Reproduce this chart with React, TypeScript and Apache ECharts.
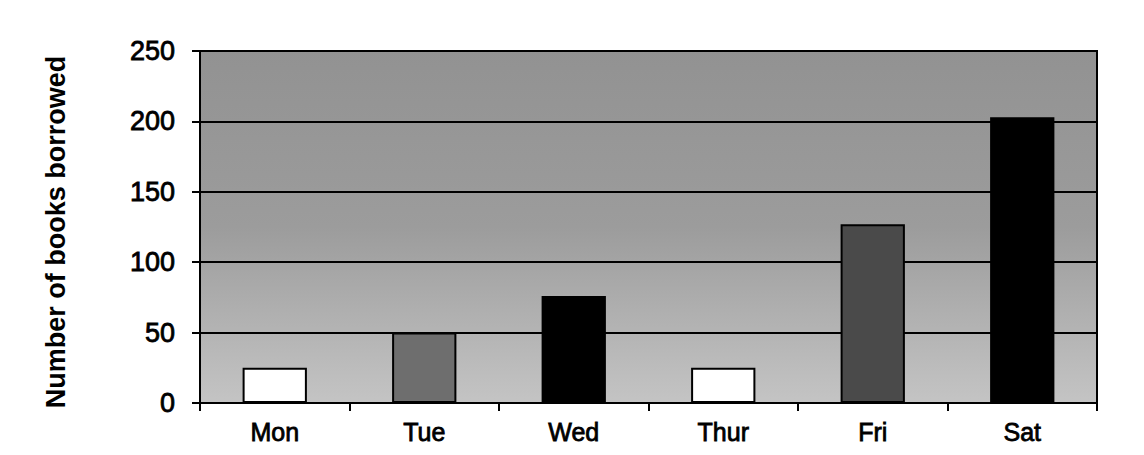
import React, { useEffect, useRef } from "react";
import * as echarts from "echarts";

const categories = ["Mon", "Tue", "Wed", "Thur", "Fri", "Sat"];
const booksBorrowed = [25, 50, 76, 25, 127, 203];
const barFills = ["#ffffff", "#6e6e6e", "#000000", "#ffffff", "#4a4a4a", "#000000"];
const yTicks = [0, 50, 100, 150, 200, 250];
const yTitle = "Number of books borrowed";

const FONT = "'Liberation Sans', Arial, sans-serif";

export default function App() {
  const ref = useRef<HTMLDivElement>(null);
  useEffect(() => {
    if (!ref.current) return;
    const chart = echarts.init(ref.current, null, { renderer: "svg" });
    chart.setOption({
      animation: false,
      backgroundColor: "#ffffff",
      grid: {
        left: 192,
        right: 39,
        top: 43,
        bottom: 44,
        show: true,
        borderColor: "#000",
        borderWidth: 2,
        backgroundColor: {
          type: "linear",
          x: 0,
          y: 0,
          x2: 0,
          y2: 1,
          colorStops: [
            { offset: 0, color: "#929292" },
            { offset: 0.5, color: "#9c9c9c" },
            { offset: 1, color: "#c4c4c4" },
          ],
        },
      },
      graphic: [
        {
          type: "text",
          x: 48,
          y: 224,
          rotation: Math.PI / 2,
          style: {
            text: yTitle,
            font: `bold 27px ${FONT}`,
            fill: "#000",
            textAlign: "center",
            textVerticalAlign: "middle",
          },
        },
      ],
      xAxis: {
        type: "category",
        data: categories,
        axisLine: { lineStyle: { color: "#000", width: 2 } },
        axisTick: { show: true, length: 8, lineStyle: { color: "#000", width: 2 } },
        axisLabel: {
          color: "#000",
          fontFamily: FONT,
          fontSize: 25,
          margin: 16,
          textBorderColor: "#000",
          textBorderWidth: 0.8,
        },
        splitLine: { show: false },
      },
      yAxis: {
        type: "value",
        min: yTicks[0],
        max: yTicks[yTicks.length - 1],
        interval: 50,
        axisLine: { show: true, lineStyle: { color: "#000", width: 2 } },
        axisTick: { show: true, length: 8, lineStyle: { color: "#000", width: 2 } },
        axisLabel: {
          color: "#000",
          fontFamily: FONT,
          fontSize: 27,
          margin: 25,
          textBorderColor: "#000",
          textBorderWidth: 0.8,
        },
        splitLine: { show: true, lineStyle: { color: "#000", width: 2 } },
      },
      series: [
        {
          type: "bar",
          barWidth: "43%",
          data: booksBorrowed.map((v, i) => ({
            value: v,
            itemStyle: { color: barFills[i], borderColor: "#000", borderWidth: 2 },
          })),
        },
      ],
    });
    return () => chart.dispose();
  }, []);
  return <div ref={ref} style={{ width: 1128, height: 439 }} />;
}
